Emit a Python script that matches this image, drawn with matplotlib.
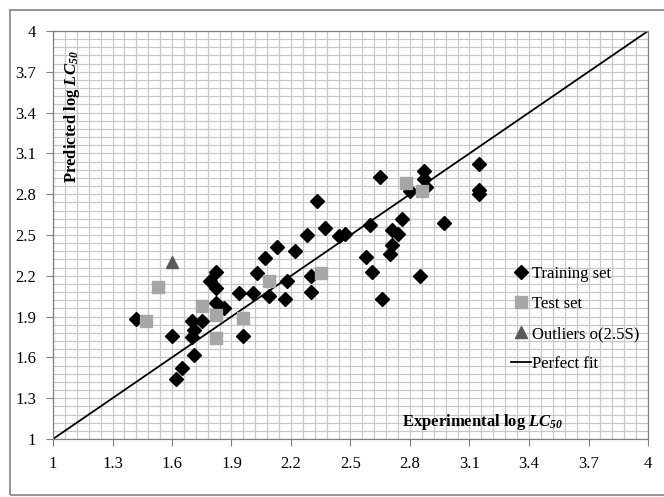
import matplotlib
matplotlib.use("Agg")
from matplotlib import pyplot as plt
from matplotlib.patches import Rectangle
import numpy as np

# experimental vs predicted log LC50
train_x = [1.42, 1.60, 1.62, 1.65, 1.71, 1.70, 1.71, 1.70, 1.75, 1.79, 1.82, 1.82,
           1.82, 1.86, 1.94, 1.96, 2.01, 2.03, 2.07, 2.09, 2.13, 2.17, 2.18, 2.22,
           2.28, 2.30, 2.30, 2.33, 2.37, 2.44, 2.47, 2.58, 2.60, 2.61, 2.65, 2.66,
           2.70, 2.71, 2.71, 2.74, 2.76, 2.80, 2.85, 2.87, 2.87, 2.88, 2.97, 3.15,
           3.15, 3.15]
train_y = [1.88, 1.76, 1.44, 1.52, 1.62, 1.87, 1.80, 1.75, 1.87, 2.16, 2.23, 2.11,
           2.00, 1.96, 2.07, 1.76, 2.07, 2.22, 2.33, 2.05, 2.41, 2.03, 2.16, 2.38,
           2.50, 2.08, 2.20, 2.75, 2.55, 2.49, 2.51, 2.34, 2.57, 2.23, 2.93, 2.03,
           2.36, 2.43, 2.54, 2.51, 2.62, 2.82, 2.20, 2.97, 2.91, 2.85, 2.59, 3.02,
           2.83, 2.80]
test_x = [1.47, 1.53, 1.75, 1.82, 1.82, 1.96, 2.09, 2.35, 2.78, 2.86]
test_y = [1.87, 2.12, 1.98, 1.91, 1.74, 1.89, 2.16, 2.22, 2.88, 2.82]
outlier_x = [1.60]
outlier_y = [2.30]
fit_line = [1, 4]
ticks = [1, 1.3, 1.6, 1.9, 2.2, 2.5, 2.8, 3.1, 3.4, 3.7, 4]
tick_labels = ["1", "1.3", "1.6", "1.9", "2.2", "2.5", "2.8", "3.1", "3.4", "3.7", "4"]

plt.rcParams["font.family"] = ["Liberation Serif", "DejaVu Serif"]
plt.rcParams["mathtext.fontset"] = "custom"
plt.rcParams["mathtext.rm"] = "Liberation Serif"
plt.rcParams["mathtext.it"] = "Liberation Serif:italic"
plt.rcParams["mathtext.bf"] = "Liberation Serif:bold"
plt.rcParams["mathtext.bfit"] = "Liberation Serif:bold:italic"

fig = plt.figure(figsize=(6.64, 4.97), dpi=100)
ax = fig.add_axes([53 / 664, 1 - 439 / 497, 595 / 664, 408 / 497])

# outer frame
fig.patches.append(Rectangle((10 / 664, 2 / 497), 1.0, 485 / 497, transform=fig.transFigure,
                             fill=False, edgecolor="#8c8c8c", linewidth=1.3))

ax.plot(fit_line, fit_line, color="black", linewidth=1.3, label="Perfect fit", zorder=2)
ax.plot(train_x, train_y, "D", color="black", markersize=7, linestyle="none",
        label="Training set", zorder=3)
ax.plot(test_x, test_y, "s", color="#a6a6a6", markersize=8, linestyle="none",
        label="Test set", zorder=4)
ax.plot(outlier_x, outlier_y, "^", color="#595959", markersize=8, linestyle="none",
        label="Outliers o(2.5S)", zorder=4)

ax.set_xlim(1, 4)
ax.set_ylim(1, 4)
minor = np.linspace(1, 4, 51)
ax.set_xticks(ticks, tick_labels)
ax.set_yticks(ticks, tick_labels)
ax.set_xticks(minor, minor=True)
ax.set_yticks(minor, minor=True)
ax.tick_params(which="major", direction="out", length=5, width=0.8, color="#808080",
               labelsize=12, pad=7)
ax.tick_params(which="minor", length=0)
ax.grid(True, which="both", color="#c8c8c8", linewidth=0.9)
ax.set_axisbelow(True)
for s in ax.spines.values():
    s.set_color("#808080")
    s.set_linewidth(0.9)

ax.text(0.032, 0.79, r"Predicted log $\mathbfit{LC}_{\mathbfit{50}}$", transform=ax.transAxes,
        rotation=90, ha="center", va="center", fontsize=12, fontweight="bold")
ax.text(0.722, 0.042, r"Experimental log $\mathbfit{LC}_{\mathbfit{50}}$", transform=ax.transAxes,
        ha="center", va="center", fontsize=12, fontweight="bold")

h, l = ax.get_legend_handles_labels()
order = [1, 2, 3, 0]
ax.legend([h[i] for i in order], [l[i] for i in order], loc="upper left",
          bbox_to_anchor=(0.755, 0.445), frameon=False, fontsize=12, labelspacing=0.85,
          handlelength=1.2, handletextpad=0.1, borderpad=0)

plt.savefig("out.png", dpi=100)
